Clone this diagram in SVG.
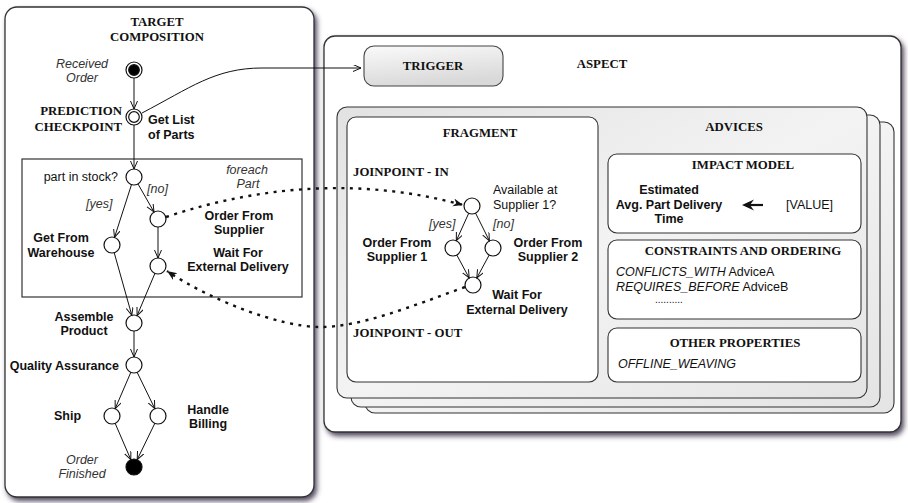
<svg xmlns="http://www.w3.org/2000/svg" width="908" height="503" viewBox="0 0 908 503">
<defs>
<style>
.t{font-family:"Liberation Sans",Arial,sans-serif;font-size:12.5px;fill:#111}
.b{font-weight:bold}
.i{font-style:italic;fill:#333}
.s{font-family:"Liberation Serif","Times New Roman",serif;font-weight:bold;font-size:12.8px;fill:#111}
.m{text-anchor:middle}
.r{text-anchor:end}
.n{fill:#fff;stroke:#111;stroke-width:1.2}
.f{fill:#000;stroke:#111;stroke-width:1.2}
.e{fill:none;stroke:#111;stroke-width:1;marker-end:url(#oa)}
.d{fill:none;stroke:#111;stroke-width:2.4;stroke-dasharray:3 5.5;marker-end:url(#da)}
.stk{stroke:#333;stroke-width:1.1}
.box{fill:#fff;stroke:#333;stroke-width:1.1}
</style>
<marker id="oa" markerWidth="10" markerHeight="10" refX="8" refY="3.5" orient="auto" markerUnits="userSpaceOnUse">
<path d="M0,0 L8,3.5 L0,7" fill="none" stroke="#111" stroke-width="1"/>
</marker>
<marker id="da" markerWidth="12" markerHeight="10" refX="10" refY="4" orient="auto" markerUnits="userSpaceOnUse">
<path d="M0,0 L10,4 L0,8 L3,4 Z" fill="#111"/>
</marker>
<filter id="sh" x="-5%" y="-5%" width="112%" height="112%">
<feDropShadow dx="2.5" dy="3.5" stdDeviation="2.5" flood-color="#3a2f48" flood-opacity="0.85"/>
</filter>
<linearGradient id="gTrig" x1="0" y1="0" x2="0.3" y2="1">
<stop offset="0" stop-color="#fafafa"/>
<stop offset="1" stop-color="#d9d9d9"/>
</linearGradient>
<linearGradient id="gStack" x1="0" y1="0" x2="1" y2="1">
<stop offset="0" stop-color="#e2e2e2"/>
<stop offset="0.5" stop-color="#f3f3f3"/>
<stop offset="1" stop-color="#e4e4e4"/>
</linearGradient>
</defs>

<!-- Left panel -->
<g id="target-composition">
<rect x="5" y="7" width="309" height="490" rx="12" fill="#fff" stroke="#333" stroke-width="1.3" filter="url(#sh)"/>
<text class="s m" x="157" y="26">TARGET</text>
<text class="s m" x="157" y="41">COMPOSITION</text>
<rect x="22" y="159" width="280" height="138" fill="none" stroke="#333" stroke-width="1.2"/>
</g>

<!-- Aspect panel -->
<g id="aspect">
<rect x="324" y="36" width="577" height="396" rx="11" fill="#fff" stroke="#333" stroke-width="1.3" filter="url(#sh)"/>
<text class="s m" x="602" y="68">ASPECT</text>
</g>

<g id="trigger">
<rect x="364" y="46" width="139" height="40" rx="10" fill="url(#gTrig)" stroke="#444" stroke-width="1.1"/>
<text class="s m" x="433" y="70">TRIGGER</text>
</g>

<g id="advices">
<rect x="365" y="122" width="529" height="291" rx="10" fill="url(#gStack)" class="stk"/>
<rect x="351" y="115" width="529" height="292" rx="10" fill="url(#gStack)" class="stk"/>
<rect x="337" y="107" width="530" height="291" rx="10" fill="url(#gStack)" class="stk"/>
<text class="s m" x="734" y="131">ADVICES</text>
</g>

<g id="fragment">
<rect x="347" y="117" width="251" height="265" rx="9" class="box"/>
<text class="s m" x="480" y="137">FRAGMENT</text>
<text class="s" x="353" y="176">JOINPOINT - IN</text>
<text class="s" x="353" y="337">JOINPOINT - OUT</text>
</g>

<g id="impact-model">
<rect x="608" y="154" width="253" height="79" rx="9" class="box"/>
<text class="s m" x="743" y="169">IMPACT MODEL</text>
<text class="t b m" x="669" y="194">Estimated</text>
<text class="t b m" x="669" y="209">Avg. Part Delivery</text>
<text class="t b m" x="669" y="223">Time</text>
<path d="M763,205 L749,205" stroke="#111" stroke-width="2.2" fill="none"/>
<path d="M742,205 L754,199.5 L750,205 L754,210.5 Z" fill="#111"/>
<text class="t" x="786" y="209">[VALUE]</text>
</g>

<g id="constraints">
<rect x="608" y="240" width="253" height="79" rx="9" class="box"/>
<text class="s m" x="743" y="255">CONSTRAINTS AND ORDERING</text>
<text class="t" x="616" y="276"><tspan font-style="italic">CONFLICTS_WITH</tspan> AdviceA</text>
<text class="t" x="616" y="291"><tspan font-style="italic">REQUIRES_BEFORE</tspan> AdviceB</text>
<text class="t" x="655" y="303" style="font-size:10px">..........</text>
</g>

<g id="other-properties">
<rect x="608" y="328" width="253" height="54" rx="9" class="box"/>
<text class="s m" x="735" y="347">OTHER PROPERTIES</text>
<text class="t" x="618" y="368" font-style="italic">OFFLINE_WEAVING</text>
</g>

<!-- Left nodes -->
<g id="received-order">
<circle cx="134" cy="70" r="8" class="n"/>
<circle cx="134" cy="70" r="5.3" class="f"/>
<text class="t i m" x="82" y="68">Received</text>
<text class="t i m" x="82" y="82">Order</text>
</g>
<g id="get-list-of-parts">
<circle cx="134" cy="117" r="8" class="n"/>
<circle cx="134" cy="117" r="5.3" class="n"/>
<text class="s r" x="122" y="115">PREDICTION</text>
<text class="s r" x="122" y="131">CHECKPOINT</text>
<text class="t b" x="148" y="124">Get List</text>
<text class="t b" x="148" y="139">of Parts</text>
</g>
<g id="part-in-stock">
<circle cx="134" cy="177" r="8" class="n"/>
<text class="t r" x="118" y="181">part in stock?</text>
<text class="t i m" x="247" y="174">foreach</text>
<text class="t i m" x="248" y="188">Part</text>
<text class="t i" x="147" y="193">[no]</text>
<text class="t i" x="86" y="208">[yes]</text>
</g>
<g id="order-from-supplier">
<circle cx="158" cy="219" r="8" class="n"/>
<text class="t b m" x="239" y="220">Order From</text>
<text class="t b m" x="239" y="234">Supplier</text>
</g>
<g id="get-from-warehouse">
<circle cx="112" cy="245" r="8" class="n"/>
<text class="t b m" x="61" y="242">Get From</text>
<text class="t b m" x="61" y="257">Warehouse</text>
</g>
<g id="wait-for-external-delivery">
<circle cx="158" cy="266" r="8" class="n"/>
<text class="t b m" x="238" y="257">Wait For</text>
<text class="t b m" x="238" y="271">External Delivery</text>
</g>
<g id="assemble-product">
<circle cx="134" cy="323" r="8" class="n"/>
<text class="t b m" x="84" y="321">Assemble</text>
<text class="t b m" x="84" y="335">Product</text>
</g>
<g id="quality-assurance">
<circle cx="134" cy="365" r="8" class="n"/>
<text class="t b r" x="119" y="370">Quality Assurance</text>
</g>
<g id="ship">
<circle cx="112" cy="416" r="8" class="n"/>
<text class="t b" x="54" y="420">Ship</text>
</g>
<g id="handle-billing">
<circle cx="158" cy="416" r="8" class="n"/>
<text class="t b m" x="208" y="414">Handle</text>
<text class="t b m" x="208" y="428">Billing</text>
</g>
<g id="order-finished">
<circle cx="134" cy="467" r="8" class="f"/>
<text class="t i m" x="82" y="464">Order</text>
<text class="t i m" x="82" y="478">Finished</text>
</g>

<!-- Fragment nodes -->
<g id="available-at-supplier-1">
<circle cx="472" cy="206" r="8" class="n"/>
<text class="t" x="493" y="194">Available at</text>
<text class="t" x="493" y="209">Supplier 1?</text>
<text class="t i" x="429" y="228">[yes]</text>
<text class="t i" x="493" y="228">[no]</text>
</g>
<g id="order-from-supplier-1">
<circle cx="453" cy="248" r="8" class="n"/>
<text class="t b m" x="397" y="247">Order From</text>
<text class="t b m" x="397" y="261">Supplier 1</text>
</g>
<g id="order-from-supplier-2">
<circle cx="493" cy="248" r="8" class="n"/>
<text class="t b m" x="548" y="247">Order From</text>
<text class="t b m" x="548" y="261">Supplier 2</text>
</g>
<g id="fragment-wait-for-external-delivery">
<circle cx="473" cy="285" r="8" class="n"/>
<text class="t b m" x="517" y="299">Wait For</text>
<text class="t b m" x="517" y="314">External Delivery</text>
</g>

<!-- Connectors -->
<g id="connectors">
<path class="e" d="M134,78 L134,109"/>
<path class="e" d="M134,125 L134,169"/>
<path class="e" d="M131.5,184.6 L114.5,237.4"/>
<path class="e" d="M138,184 L154,212"/>
<path class="e" d="M158,227 L158,258"/>
<path class="e" d="M114.2,252.7 L131.8,315.3"/>
<path class="e" d="M154.9,273.4 L137.1,315.6"/>
<path class="e" d="M134,331 L134,357"/>
<path class="e" d="M130.8,372.4 L115.2,408.6"/>
<path class="e" d="M137.2,372.4 L154.8,408.6"/>
<path class="e" d="M115.2,423.4 L130.8,459.6"/>
<path class="e" d="M154.8,423.4 L137.2,459.6"/>
<path class="e" d="M468.7,213.3 L456.3,240.7"/>
<path class="e" d="M475.6,213.2 L489.4,240.8"/>
<path class="e" d="M456.8,255 L469.2,278"/>
<path class="e" d="M489.2,255 L476.8,278"/>
<path class="e" d="M142,113 C190,88 215,68 262,68 L361,68"/>
<path class="d" d="M166,217 Q320,166 463,205"/>
<path class="d" d="M465,287 C410,307 360,327 320,327 C280,327 210,300 167,271"/>
</g>
</svg>
